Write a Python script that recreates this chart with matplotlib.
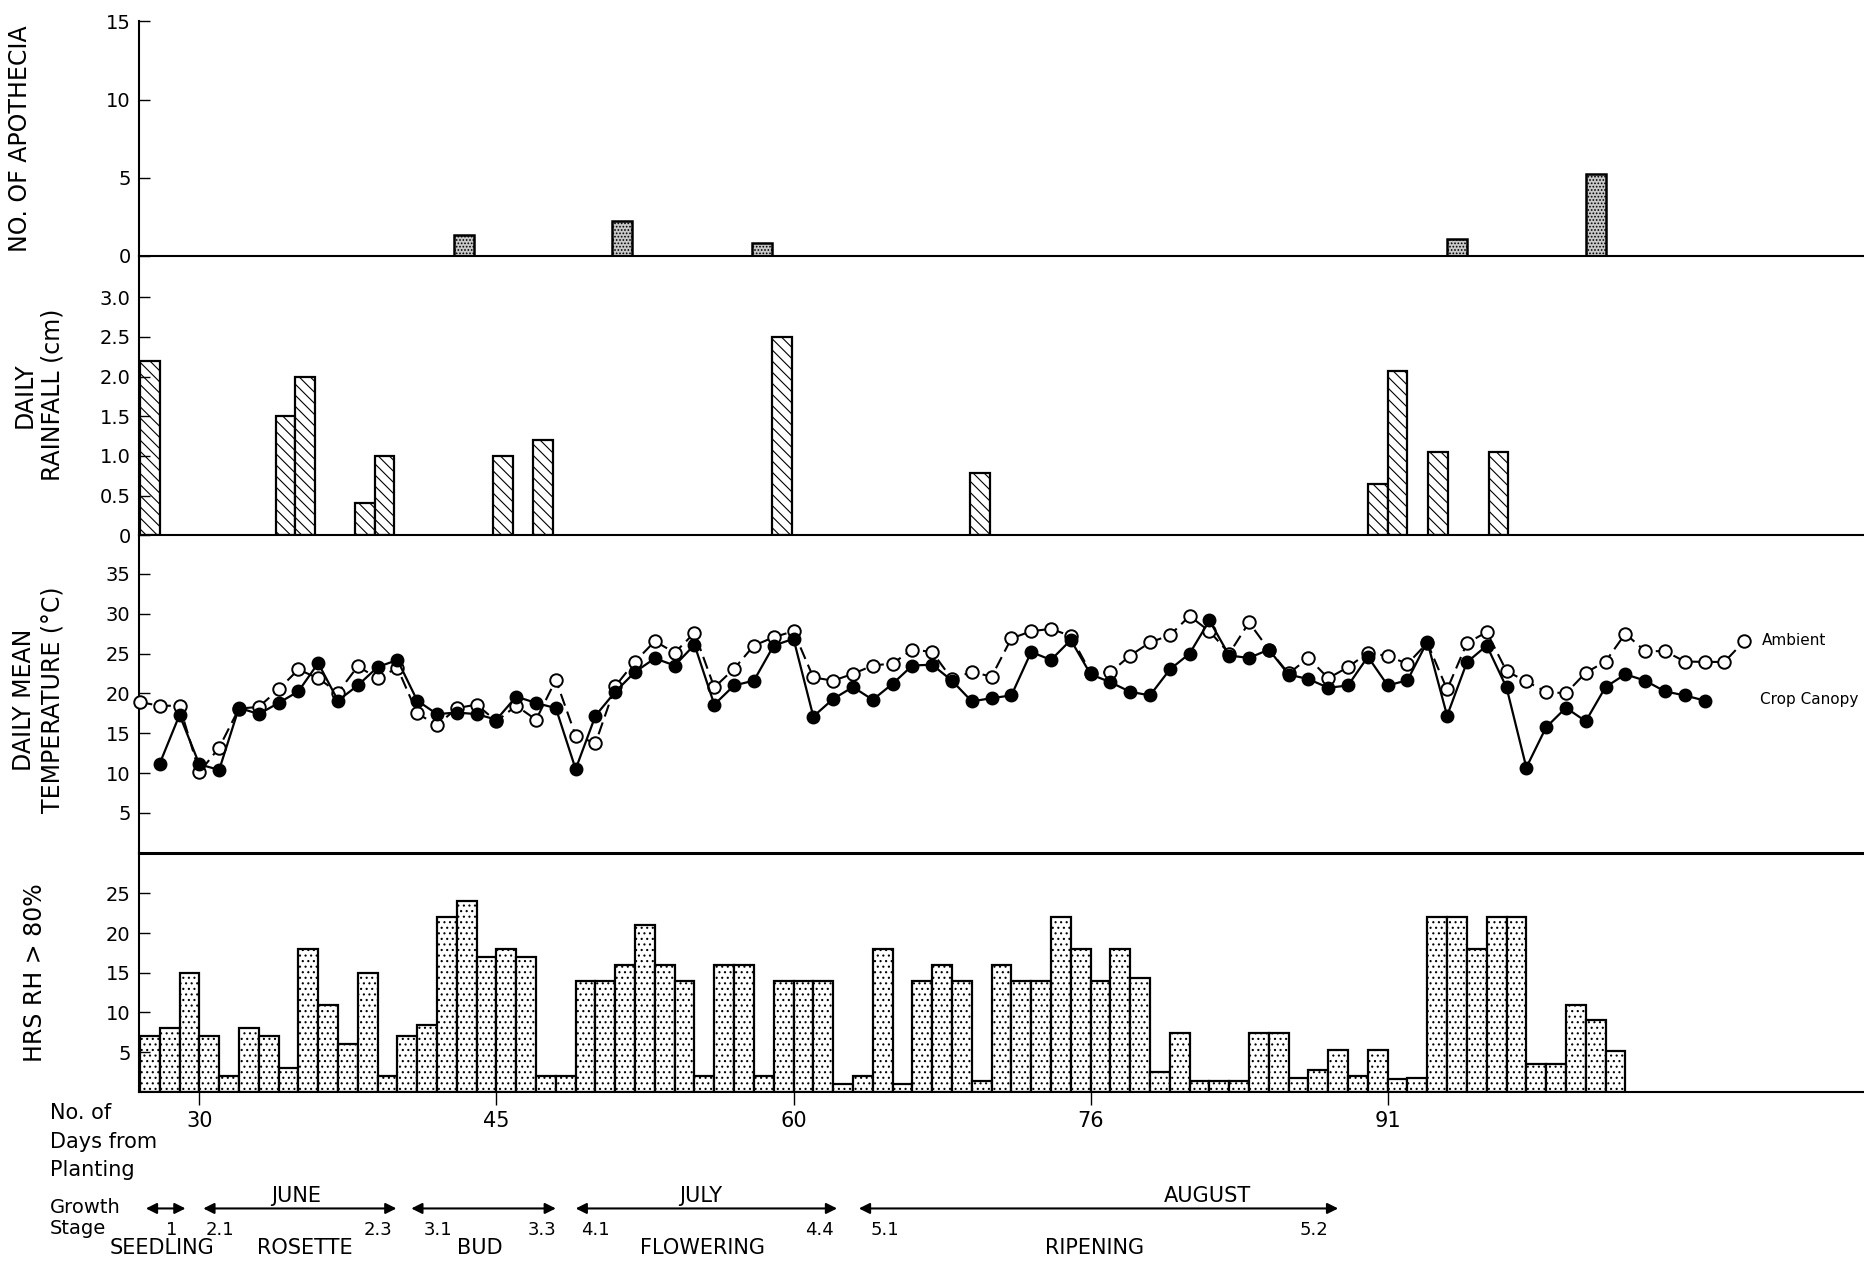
import matplotlib
matplotlib.use('Agg')
import matplotlib.pyplot as plt
from matplotlib.transforms import blended_transform_factory

plt.rcParams['font.family'] = ['DejaVu Sans']
plt.rcParams['hatch.linewidth'] = 0.8

# apothecia counts (left edge of bar on the day axis)
apo_days = [42.85, 50.85, 57.9, 93.0, 100.0]
apo_counts = [1.35, 2.2, 0.8, 1.05, 5.2]

# daily rainfall (cm)
rain_days = [27, 33.85, 34.85, 37.85, 38.85, 44.85, 46.85, 58.9, 68.9, 89.0, 90.0, 92.05, 95.1]
rain_cm = [2.2, 1.5, 2.0, 0.4, 1.0, 1.0, 1.2, 2.5, 0.78, 0.65, 2.07, 1.05, 1.05]

# daily mean temperature, ambient starts day 27, canopy day 28
amb_start = 27
ambient = [18.9, 18.45, 18.45, 10.1, 13.2, 18.1, 18.3, 20.5, 23.0, 21.9,
           20.1, 23.4, 21.9, 23.2, 17.5, 16.0, 18.15, 18.6, 16.5, 18.45,
           16.7, 21.7, 14.7, 13.75, 20.9, 24.0, 26.55, 25.1, 27.6, 20.75,
           23.1, 26.0, 27.05, 27.8, 22.0, 21.6, 22.45, 23.5, 23.75, 25.5,
           25.2, 21.8, 22.7, 22.1, 26.9, 27.8, 28.1, 27.2, 22.6, 22.65,
           24.75, 26.4, 27.3, 29.7, 27.8, 25.0, 28.9, 25.5, 22.5, 24.45,
           21.9, 23.3, 25.1, 24.7, 23.7, 26.35, 20.5, 26.3, 27.7, 22.8,
           21.5, 20.2, 20.0, 22.6, 24.0, 27.5, 25.3, 25.3, 24.0, 23.95,
           23.95, 26.55]
can_start = 28
canopy = [11.2, 17.3, 11.1, 10.4, 18.2, 17.4, 18.8, 20.25, 23.8, 19.1,
          21.0, 23.3, 24.2, 19.1, 17.4, 17.6, 17.4, 16.7, 19.6, 18.8,
          18.15, 10.5, 17.2, 20.2, 22.7, 24.4, 23.5, 26.1, 18.6, 21.0,
          21.6, 26.0, 26.85, 17.1, 19.3, 20.8, 19.2, 21.2, 23.5, 23.6,
          21.6, 19.0, 19.4, 19.75, 25.2, 24.2, 26.7, 22.4, 21.4, 20.2,
          19.75, 23.0, 25.0, 29.15, 24.75, 24.45, 25.5, 22.35, 21.8, 20.7,
          21.0, 24.6, 21.0, 21.65, 26.5, 17.2, 23.9, 26.0, 20.75, 10.7,
          15.75, 18.2, 16.5, 20.8, 22.4, 21.6, 20.25, 19.75, 19.1]

# hours with RH > 80 %, from day 27
rh_start = 27
rh_hours = [7, 8, 15, 7, 2, 8, 7, 3, 18, 11, 6, 15, 2, 7, 8.4, 22, 24, 17, 18, 17,
            2, 2, 14, 14, 16, 21, 16, 14, 2, 16, 16, 2, 14, 14, 14, 1, 2, 18, 1, 14,
            16, 14, 1.4, 16, 14, 14, 22, 18, 14, 18, 14.4, 2.5, 7.4, 1.4, 1.4, 1.4, 7.4, 7.4, 1.8, 2.8,
            5.3, 2, 5.3, 1.6, 1.7, 22, 22, 18, 22, 22, 3.5, 3.5, 11, 9, 5.2]

tick_pos = [30, 45, 60, 75, 90]
tick_labels = ['30', '45', '60', '76', '91']

stage_arrows = [(27.3, 29.3), (30.2, 39.95), (40.7, 48.0), (49.0, 62.2), (63.3, 87.5)]
months = [('JUNE', 34.9), ('JULY', 55.3), ('AUGUST', 80.9)]
stage_codes = [('1', 28.6), ('2.1', 31.05), ('2.3', 39.0), ('3.1', 42.05), ('3.3', 47.3),
               ('4.1', 50.0), ('4.4', 61.3), ('5.1', 64.6), ('5.2', 86.3)]
stage_names = [('SEEDLING', 28.1), ('ROSETTE', 35.3), ('BUD', 44.15),
               ('FLOWERING', 55.4), ('RIPENING', 75.2)]

fig = plt.figure(figsize=(18.65, 12.65), dpi=100)
left, width = 0.0745, 0.9255
ax1 = fig.add_axes([left, 0.79787, width, 0.98308 - 0.79787])
ax2 = fig.add_axes([left, 0.57692, width, 0.79787 - 0.57692])
ax3 = fig.add_axes([left, 0.32585, width, 0.57692 - 0.32585])
ax4 = fig.add_axes([left, 0.13684, width, 0.32585 - 0.13684])

for ax in (ax1, ax2, ax3, ax4):
    ax.set_xlim(26.95, 114.1)
    ax.spines['top'].set_visible(False)
    ax.spines['right'].set_visible(False)
    ax.spines['left'].set_linewidth(1.5)
    ax.spines['bottom'].set_linewidth(1.5)
    ax.tick_params(axis='y', direction='in', length=8, width=1, labelsize=14, pad=6)
    ax.patch.set_alpha(0)
for ax in (ax1, ax2, ax3):
    ax.tick_params(axis='x', bottom=False, labelbottom=False)
ax3.spines['bottom'].set_linewidth(2.2)

# apothecia
ax1.bar(apo_days, apo_counts, width=1, align='edge', facecolor='#c8c8c8',
        edgecolor='black', linewidth=1.8, hatch='.....')
ax1.set_ylim(0, 15)
ax1.set_yticks([0, 5, 10, 15])

# rainfall
ax2.bar(rain_days, rain_cm, width=1, align='edge', facecolor='white',
        edgecolor='black', linewidth=1.6, hatch='\\' * 3)
ax2.set_ylim(0, 3.525)
ax2.set_yticks([0, 0.5, 1.0, 1.5, 2.0, 2.5, 3.0])
ax2.set_yticklabels(['0', '0.5', '1.0', '1.5', '2.0', '2.5', '3.0'])

# temperature
amb_x = list(range(amb_start, amb_start + len(ambient)))
can_x = list(range(can_start, can_start + len(canopy)))
ax3.plot(amb_x, ambient, color='black', lw=1.5, dashes=(6, 3), marker='o',
         markersize=9, markerfacecolor='white', markeredgecolor='black',
         markeredgewidth=1.4, zorder=3, clip_on=False)
ax3.plot(can_x, canopy, color='black', lw=1.6, marker='o', markersize=9,
         markerfacecolor='black', markeredgecolor='black', zorder=4, clip_on=False)
ax3.set_ylim(0, 39.85)
ax3.set_yticks([5, 10, 15, 20, 25, 30, 35])
ax3.text(108.9, 26.6, 'Ambient', fontsize=11, va='center', ha='left')
ax3.text(108.8, 19.2, 'Crop Canopy', fontsize=11, va='center', ha='left')

# RH hours
rh_x = list(range(rh_start, rh_start + len(rh_hours)))
ax4.bar(rh_x, rh_hours, width=1, align='edge', facecolor='white',
        edgecolor='black', linewidth=1.6, hatch='...')
ax4.set_ylim(0, 30.1)
ax4.set_yticks([5, 10, 15, 20, 25])
ax4.set_xticks(tick_pos)
ax4.set_xticklabels(tick_labels)
ax4.tick_params(axis='x', direction='out', length=9, width=1, labelsize=15, pad=5)

# y labels
fig.text(0.0105, 1 - 117 * 1.1894 / 1265, 'NO. OF APOTHECIA', rotation=90,
         ha='center', va='center', fontsize=17)
fig.text(0.0205, 1 - 332 * 1.1894 / 1265, 'DAILY\nRAINFALL (cm)', rotation=90,
         ha='center', va='center', fontsize=17, multialignment='center')
fig.text(0.0205, 1 - 588 * 1.1894 / 1265, 'DAILY MEAN\nTEMPERATURE (°C)', rotation=90,
         ha='center', va='center', fontsize=17, multialignment='center')
fig.text(0.019, 1 - 818 * 1.1894 / 1265, 'HRS RH > 80%', rotation=90,
         ha='center', va='center', fontsize=17)

# bottom annotations
tr = blended_transform_factory(ax4.transData, fig.transFigure)
fig.text(0.0268, 0.120, 'No. of', fontsize=15, va='center', ha='left')
fig.text(0.0268, 0.0974, 'Days from', fontsize=15, va='center', ha='left')
fig.text(0.0268, 0.0748, 'Planting', fontsize=15, va='center', ha='left')
fig.text(0.0268, 0.0457, 'Growth', fontsize=14, va='center', ha='left')
fig.text(0.0268, 0.0292, 'Stage', fontsize=14, va='center', ha='left')

for x0, x1 in stage_arrows:
    ax4.annotate('', xy=(x1, 0.0447), xytext=(x0, 0.0447), xycoords=tr, textcoords=tr,
                 arrowprops=dict(arrowstyle='<|-|>', lw=1.5, color='black',
                                 mutation_scale=16, shrinkA=0, shrinkB=0),
                 annotation_clip=False)
for name, x in months:
    ax4.text(x, 0.0542, name, transform=tr, fontsize=15, ha='center', va='center')
for code, x in stage_codes:
    ax4.text(x, 0.0278, code, transform=tr, fontsize=13, ha='center', va='center')
for name, x in stage_names:
    ax4.text(x, 0.0132, name, transform=tr, fontsize=15, ha='center', va='center')

fig.savefig('out.png', dpi=100)
